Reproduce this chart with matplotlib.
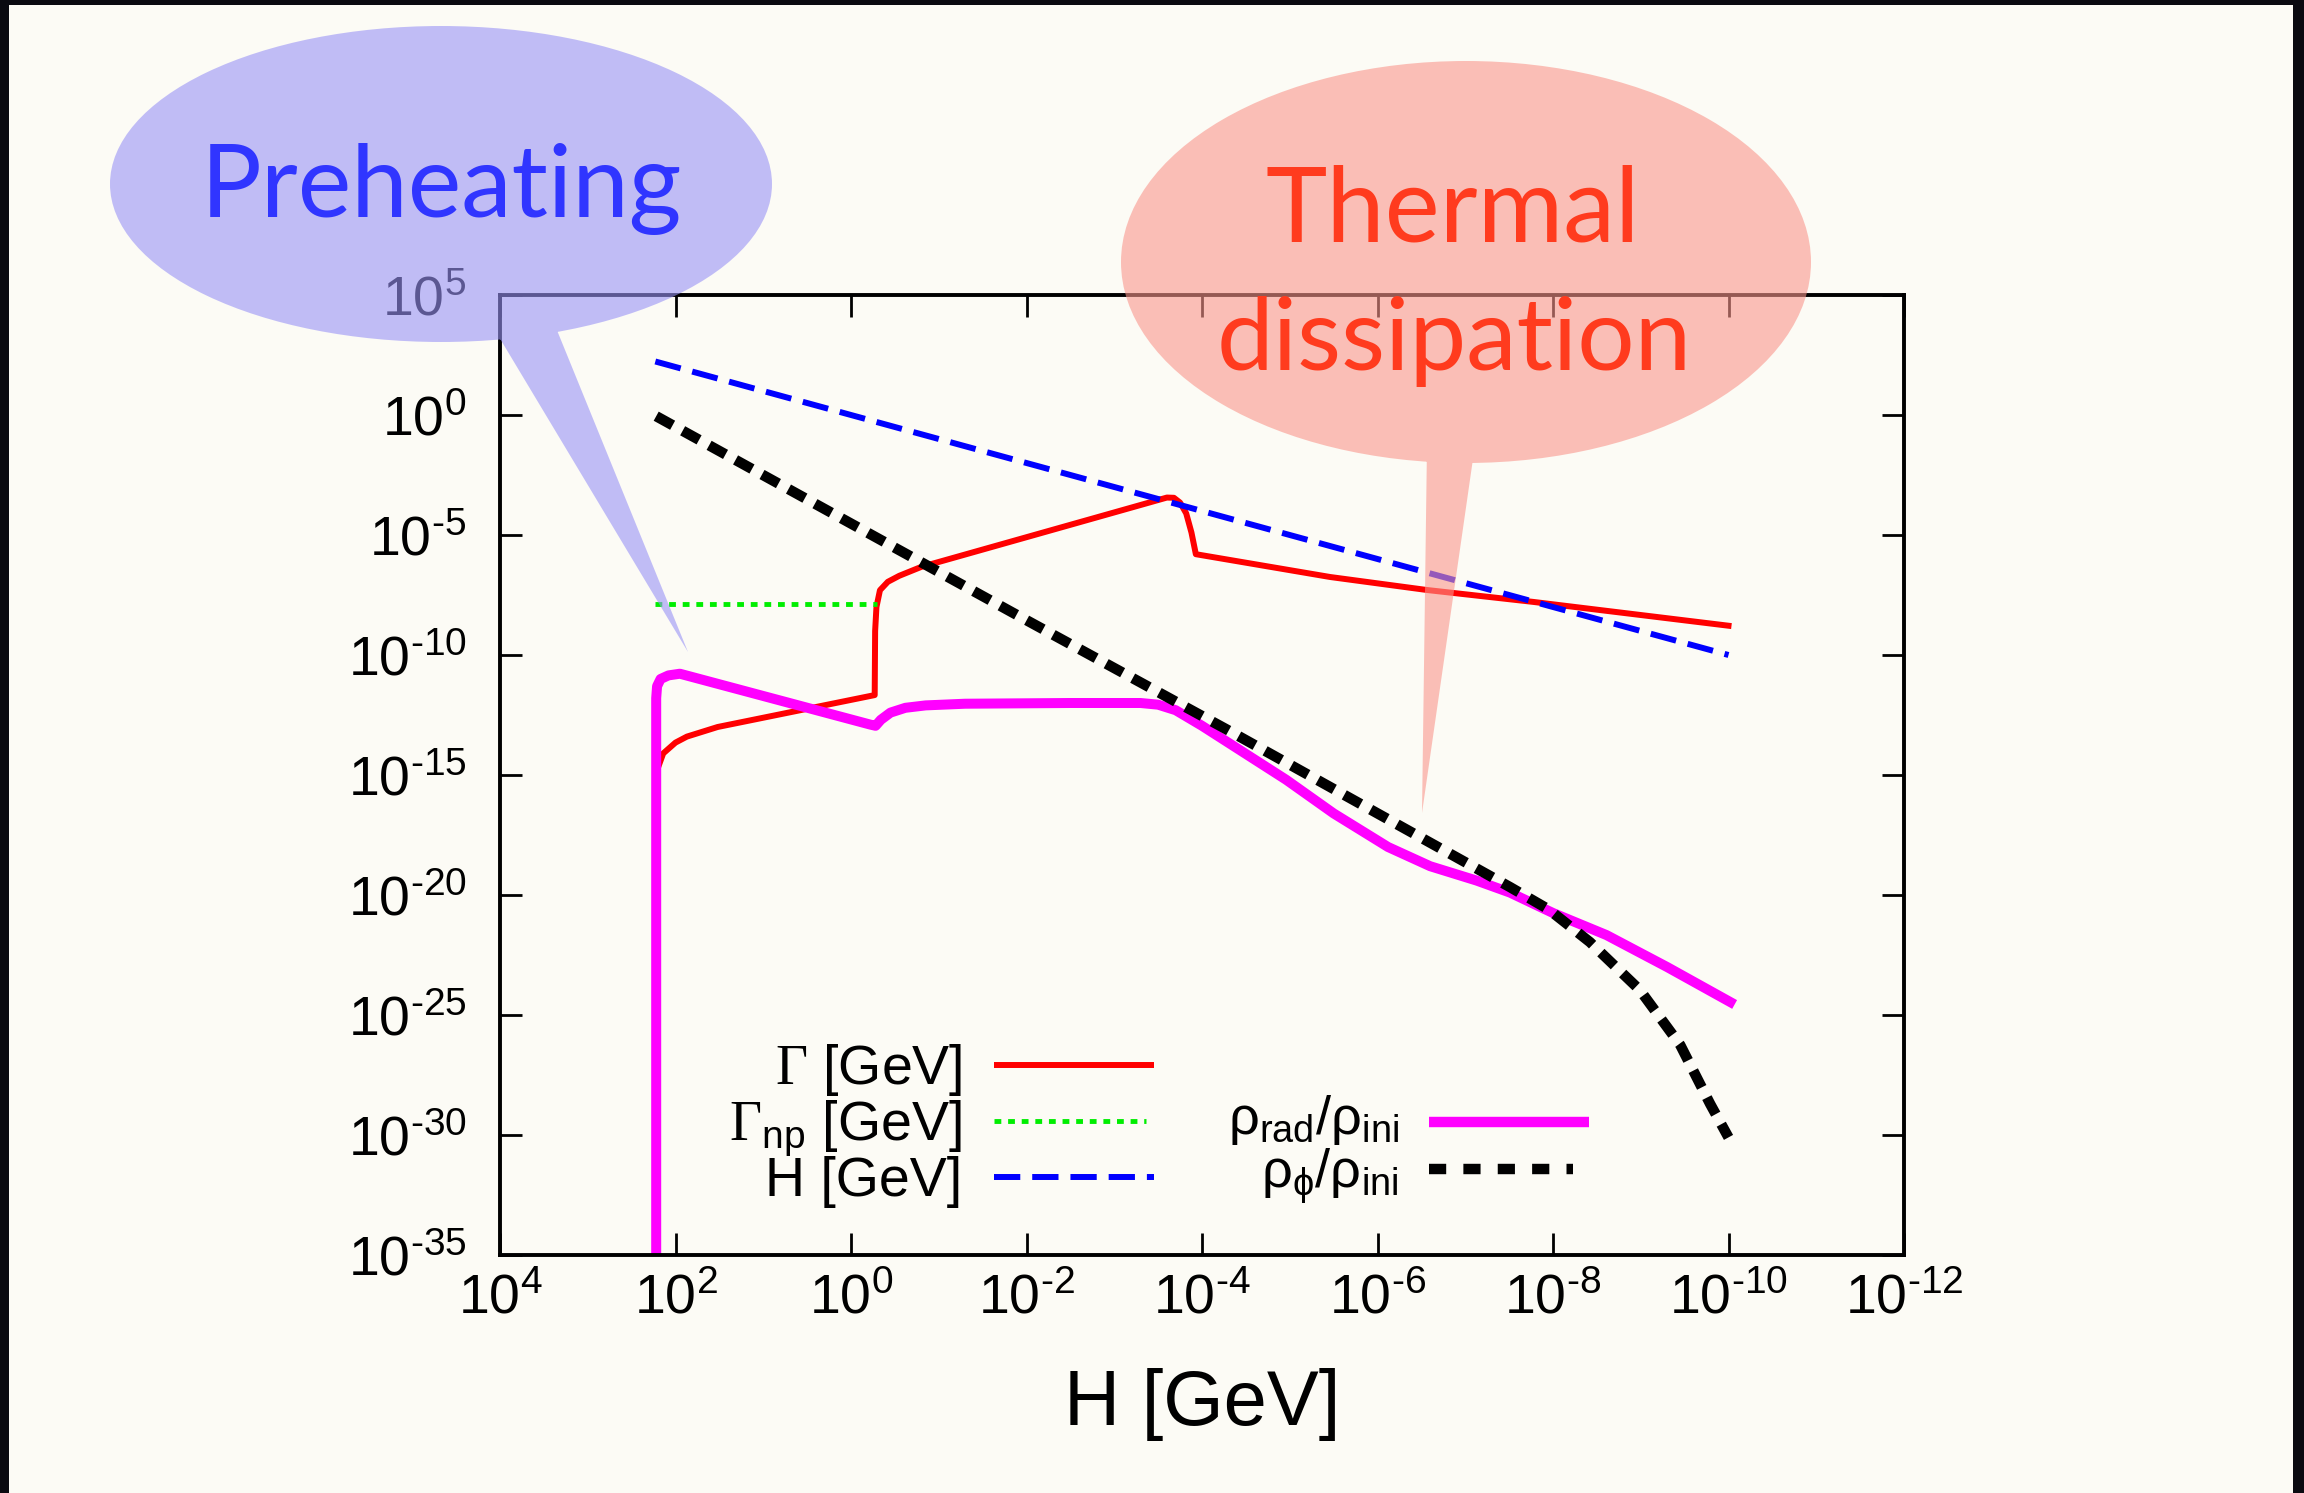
import numpy as np
import matplotlib.pyplot as plt
from matplotlib.patches import PathPatch, Rectangle
from matplotlib.path import Path
from matplotlib.transforms import Affine2D
from matplotlib.lines import Line2D

plt.rcParams['font.family'] = ['Liberation Sans', 'DejaVu Sans']
plt.rcParams['mathtext.fontset'] = 'custom'
plt.rcParams['mathtext.rm'] = 'Liberation Sans'
plt.rcParams['mathtext.it'] = 'Liberation Sans'
plt.rcParams['mathtext.cal'] = 'Liberation Serif'
plt.rcParams['mathtext.bf'] = 'Liberation Sans:bold'
plt.rcParams['mathtext.fallback'] = 'cm'

# log10 values (x = log10 H, y = log10 value)
gamma_lh = [2.2, 2.14, 2.0, 1.87, 1.52, -0.27, -0.275, -0.29, -0.33, -0.42, -0.55, -0.80,
            -3.60, -3.68, -3.75, -3.82, -3.88, -3.93, -5.46, -6.56, -7.78, -10.0]
gamma_lv = [-14.7, -14.1, -13.65, -13.4, -13.0, -11.67, -9.0, -8.0, -7.3, -6.95, -6.7, -6.33,
            -3.44, -3.45, -3.65, -4.1, -4.9, -5.8, -6.75, -7.29, -7.79, -8.78]

gnp_lh = [2.23, -0.30]
gnp_lv = [-7.88, -7.88]

hub_lh = [2.23, -10.0]
hub_lv = [2.23, -10.0]

rad_lh = [2.22, 2.22, 2.21, 2.17, 2.08, 1.95, -0.22, -0.28, -0.34, -0.45, -0.62, -0.85, -1.3,
          -2.5, -3.3, -3.5, -3.7, -4.0, -4.32, -4.96, -5.5, -6.12, -6.6, -7.13, -7.51, -8.0,
          -8.61, -9.3, -10.02]
rad_lv = [-40, -11.8, -11.3, -11.0, -10.85, -10.78, -12.9, -12.95, -12.7, -12.4, -12.2, -12.1,
          -12.03, -12.0, -12.0, -12.07, -12.3, -12.95, -13.7, -15.2, -16.6, -18.0, -18.8,
          -19.4, -19.9, -20.75, -21.67, -23.0, -24.46]

phi_lh = [2.22, -1.85, -4.28, -6.0, -7.51, -7.95, -8.42, -8.99, -9.45, -9.79, -10.0]
phi_lv = [-0.05, -8.25, -13.1, -16.6, -19.67, -20.6, -21.96, -23.96, -26.25, -28.7, -30.1]

x_tick_exp = [4, 2, 0, -2, -4, -6, -8, -10, -12]
y_tick_exp = [5, 0, -5, -10, -15, -20, -25, -30, -35]

W, HH = 2304, 1493
bg = '#FCFBF5'

fig = plt.figure(figsize=(W / 100, HH / 100), dpi=100, facecolor=bg)
ax = fig.add_axes([500 / W, 1 - 1255 / HH, 1404 / W, 960 / HH])
ax.set_facecolor(bg)


def p(v):
    return 10.0 ** np.array(v)


def powlab(e):
    # short hyphen in the exponent, as in the original
    return r'$10^{%s}$' % str(e).replace('-', '\u2010')


ax.plot(p(gamma_lh), p(gamma_lv), color='#FF0000', lw=4.3, solid_joinstyle='round')
ax.plot(p(gnp_lh), p(gnp_lv), color='#00EE00', lw=3.5, dashes=(1.4, 1.4))
ax.plot(p(hub_lh), p(hub_lv), color='#0000FF', lw=4.3, dashes=(4.4, 2.0))
ax.plot(p(rad_lh), p(rad_lv), color='#FF00FF', lw=7.2, solid_joinstyle='round')
ax.plot(p(phi_lh), p(phi_lv), color='black', lw=7.5, dashes=(1.8, 1.1))

ax.set_xscale('log')
ax.set_yscale('log')
ax.set_xlim(1e4, 1e-12)
ax.set_ylim(1e-35, 1e5)
ax.set_xticks([10.0 ** e for e in x_tick_exp])
ax.set_xticklabels([powlab(e) for e in x_tick_exp])
ax.set_yticks([10.0 ** e for e in y_tick_exp])
ax.set_yticklabels([powlab(e) for e in y_tick_exp])
ax.minorticks_off()
ax.tick_params(axis='both', which='major', direction='in', top=True, right=True,
               length=16, width=2, labelsize=40)
ax.tick_params(axis='y', pad=24)
ax.tick_params(axis='x', pad=13)
for s in ax.spines.values():
    s.set_linewidth(2.8)

fig.text(1202 / W, 1 - 1425 / HH, 'H [GeV]', fontsize=56, ha='center', va='baseline')


# legend, drawn gnuplot style: label right aligned, then the sample
def fx(x):
    return x / W


def fy(y):
    return 1 - y / HH


legend_rows = [
    (r'$\mathcal{\Gamma}$ [GeV]', 962, 1084, 994, 1154, 1065, 40,
     dict(color='#FF0000', lw=4.3)),
    (r'$\mathcal{\Gamma}_{\mathrm{np}}$ [GeV]', 962, 1140, 994, 1146, 1121, 40,
     dict(color='#00EE00', lw=3.5, dashes=(1.4, 1.4))),
    ('H [GeV]', 962, 1196, 994, 1154, 1177, 40,
     dict(color='#0000FF', lw=4.3, dashes=(4.4, 2.0))),
    (r'$\mathrm{\rho_{rad}/\rho_{ini}}$', 1399, 1134, 1429, 1589, 1122, 39,
     dict(color='#FF00FF', lw=7.5)),
    (r'$\mathrm{\rho_{\phi}/\rho_{ini}}$', 1399, 1188, 1429, 1573, 1169, 39,
     dict(color='black', lw=7.5, dashes=(1.65, 1.65))),
]
for lab, tx, ty, x0, x1, ly, fs, st in legend_rows:
    fig.text(fx(tx), fy(ty), lab, fontsize=fs, ha='right', va='baseline')
    fig.add_artist(Line2D([fx(x0), fx(x1)], [fy(ly), fy(ly)], transform=fig.transFigure,
                          solid_capstyle='butt', dash_capstyle='butt', **st))


# speech bubbles
def bubble(cx, cy, w, h, tail, color):
    ell = Path.unit_circle().transformed(
        Affine2D().scale(w / 2 / W, h / 2 / HH).translate(fx(cx), fy(cy)))
    pts = [(fx(a), fy(b)) for a, b in tail]
    (ax_, ay_), (bx_, by_), (cx_, cy_) = pts
    if (bx_ - ax_) * (cy_ - ay_) - (by_ - ay_) * (cx_ - ax_) < 0:
        pts = pts[::-1]
    tri = Path(pts + [pts[0]], [Path.MOVETO, Path.LINETO, Path.LINETO, Path.CLOSEPOLY])
    path = Path.make_compound_path(ell, tri)
    fig.add_artist(PathPatch(path, transform=fig.transFigure, facecolor=color,
                             edgecolor='none', alpha=0.6, zorder=5))


bubble(441, 184, 662, 316, [(490, 322), (552, 318), (688, 652)], (153 / 255, 147 / 255, 245 / 255))
bubble(1466, 262, 690, 402, [(1427, 445), (1475, 445), (1422, 813)], (250 / 255, 150 / 255, 140 / 255))

fig.text(fx(441), fy(217), 'Preheating', fontsize=73, family='Lato', color='#3035FF',
         ha='center', va='baseline', zorder=6)
fig.text(fx(1453), fy(242), 'Thermal', fontsize=75, family='Lato', color='#FF3B1E',
         ha='center', va='baseline', zorder=6)
fig.text(fx(1454), fy(370), 'dissipation', fontsize=73, family='Lato', color='#FF3B1E',
         ha='center', va='baseline', zorder=6)

# dark slide frame
for rect in [(0, 1 - 5 / HH, 1, 5 / HH), (0, 0, 9 / W, 1), (1 - 11 / W, 0, 11 / W, 1)]:
    fig.add_artist(Rectangle(rect[:2], rect[2], rect[3], transform=fig.transFigure,
                             facecolor='#0a0a10', edgecolor='none', zorder=10))

fig.savefig('out.png', dpi=100, facecolor=bg)
